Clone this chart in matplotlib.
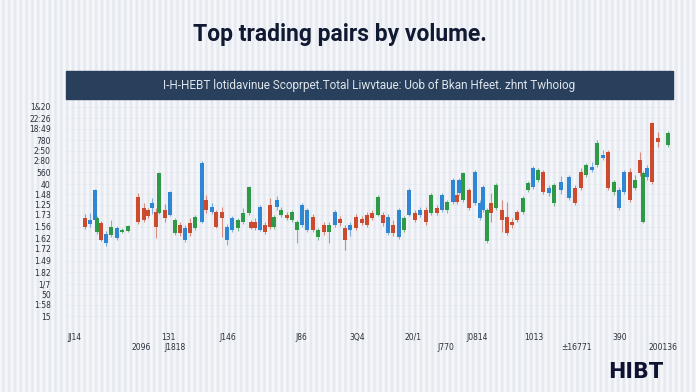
import numpy as np
import matplotlib.pyplot as plt
from matplotlib.patches import Rectangle

# candle data (arbitrary price units)
day = [85, 90, 95, 97, 101, 106, 111, 117, 122, 128, 138, 144, 148, 152, 156, 159, 165, 170, 175, 180,
       185, 190, 195, 202, 206, 212, 216, 222, 227, 232, 238, 243, 249, 251, 255, 260, 265, 270, 274, 277,
       281, 287, 292, 297, 302, 307, 313, 318, 324, 329, 335, 340, 345, 350, 356, 362, 367, 372, 378, 383,
       388, 393, 399, 404, 409, 415, 420, 426, 431, 437, 442, 447, 453, 457, 459, 463, 469, 475, 480, 483,
       487, 491, 496, 502, 507, 512, 517, 523, 528, 533, 538, 543, 549, 554, 561, 569, 575, 581, 586, 592,
       597, 603, 608, 614, 619, 624, 630, 635, 640, 643, 647, 652, 658, 668]
body_hi = [42, 40, 70, 42, 37, 26, 33, 32, 30, 34, 63, 52, 50, 57, 48, 87, 50, 68, 40, 35,
           32, 37, 43, 97, 60, 53, 48, 48, 33, 42, 40, 47, 73, 38, 38, 53, 35, 55, 43, 60,
           50, 45, 48, 38, 55, 50, 43, 30, 35, 35, 48, 41, 32, 35, 43, 41, 45, 47, 63, 45,
           43, 35, 50, 42, 70, 47, 50, 50, 65, 52, 65, 58, 80, 65, 80, 87, 70, 88, 57, 73,
           50, 57, 75, 50, 43, 38, 48, 62, 77, 92, 90, 88, 72, 75, 78, 83, 72, 88, 95, 93,
           117, 105, 108, 78, 70, 88, 88, 80, 100, 87, 92, 137, 122, 127]
body_lo = [33, 36, 40, 28, 20, 17, 25, 22, 28, 29, 38, 40, 44, 52, 33, 47, 42, 45, 27, 27,
           20, 27, 32, 38, 50, 48, 33, 42, 20, 30, 32, 38, 47, 32, 32, 30, 28, 33, 33, 53,
           45, 42, 40, 30, 35, 30, 30, 23, 28, 28, 35, 37, 20, 30, 32, 37, 35, 42, 45, 37,
           27, 27, 23, 30, 45, 40, 45, 38, 47, 47, 50, 50, 58, 58, 67, 60, 52, 57, 42, 50,
           19, 47, 52, 40, 27, 35, 40, 48, 70, 73, 80, 68, 67, 57, 70, 62, 57, 72, 85, 90,
           95, 102, 72, 68, 52, 68, 60, 72, 87, 38, 83, 78, 118, 115]
high = [46, 47, 71, 44, 39, 29, 40, 34, 32, 35, 67, 57, 52, 62, 52, 88, 56, 69, 42, 38,
        35, 42, 45, 99, 65, 57, 50, 53, 36, 44, 42, 52, 74, 40, 42, 55, 38, 62, 45, 64,
        53, 48, 50, 40, 57, 52, 46, 32, 38, 38, 50, 44, 35, 38, 46, 44, 48, 50, 65, 48,
        46, 40, 52, 44, 72, 50, 53, 53, 67, 55, 67, 60, 82, 68, 82, 88, 72, 90, 60, 75,
        52, 67, 77, 60, 58, 42, 50, 64, 79, 94, 92, 90, 75, 77, 84, 85, 75, 92, 97, 98,
        120, 110, 110, 80, 73, 90, 92, 85, 108, 89, 95, 138, 128, 129]
low = [31, 33, 38, 26, 19, 14, 23, 20, 27, 28, 36, 38, 42, 46, 22, 46, 38, 44, 25, 24,
       18, 24, 30, 37, 47, 46, 32, 23, 15, 28, 29, 36, 45, 31, 30, 29, 26, 31, 31, 50,
       43, 40, 38, 17, 33, 28, 28, 20, 25, 17, 33, 34, 10, 24, 30, 35, 33, 40, 44, 34,
       25, 24, 21, 28, 44, 38, 43, 35, 45, 45, 48, 47, 56, 56, 65, 58, 50, 55, 40, 48,
       17, 38, 50, 28, 25, 32, 38, 46, 68, 71, 78, 66, 64, 54, 66, 60, 55, 70, 83, 88,
       93, 100, 70, 65, 50, 66, 58, 70, 84, 37, 80, 76, 113, 113]
kind = list("rbbgrbgbggrrrbrgrbgrbrgbrbrrbbgggrrbrrgbgrggbbrgrgbrrbrrrrgrbrbgbrbrgrbgbrbgrbbbgrgrrrrggbgrbgbbrrgbgbrgbbrgrgbrrg")

ytick_pos = [153.5, 142, 131, 120, 109, 99, 88, 76, 66, 55, 45, 33, 21, 11, -1, -12, -24, -35, -45, -56]
ytick_lab = ["1&20", "22:26", "18:49", "780", "2:50", "2:80", "560", "40", "1.48", "1.25",
             "1.73", "1.56", "1.62", "1.72", "1.49", "1.82", "1/7", "50", "1:58", "15"]
xtick_pos_top = [74, 168, 228, 301, 357, 413, 477, 534, 620]
xtick_lab_top = ["JJ14", "131", "J146", "J86", "3Q4", "20/1", "J0814", "1013", "390"]
xtick_pos_low = [141, 175, 446, 576, 663]
xtick_lab_low = ["2096", "J1818", "J770", "±16771", "200136"]

colours = {"r": "#cc4a2e", "g": "#2f9a45", "b": "#2f86d2"}

fig = plt.figure(figsize=(6.96, 3.92), dpi=100)

# striped background
bg = fig.add_axes([0, 0, 1, 1])
xs = np.arange(696)
stripe = 0.5 + 0.5 * np.cos(2 * np.pi * xs / 5.8)
base = np.array([0.90, 0.915, 0.94])
light = np.array([0.965, 0.972, 0.985])
img = base[None, :] + (light - base)[None, :] * stripe[:, None]
bg.imshow(img[None, :, :], aspect="auto", extent=[0, 1, 0, 1])
bg.axis("off")

ax = fig.add_axes([66 / 696, 1 - 330 / 392, 607 / 696, 230 / 392])
ax.patch.set_alpha(0)
ax.set_xlim(66, 673)
ax.set_ylim(-70, 160)

for y in ytick_pos:
    ax.axhline(y, color="#d8dde5", lw=0.5, alpha=0.35, zorder=0)

for d, bh, bl, h, l, k in zip(day, body_hi, body_lo, high, low, kind):
    c = colours[k]
    ax.vlines(d, l, h, color=c, lw=0.8, alpha=0.6, zorder=2)
    ax.bar(d, bh - bl, bottom=bl, width=4.2, color=c, edgecolor="none", zorder=3)

ax.set_yticks(ytick_pos)
ax.set_yticklabels(ytick_lab, fontsize=5.5, color="#2a2f3a")
ax.set_xticks(xtick_pos_top)
ax.set_xticklabels(xtick_lab_top, fontsize=5.5, color="#2a2f3a")
ax.tick_params(length=0, pad=2)
ax.tick_params(axis="y", pad=11)
for s in ax.spines.values():
    s.set_visible(False)

# second, lower row of x labels
low_row = ax.get_xaxis_transform()
for p, s in zip(xtick_pos_low, xtick_lab_low):
    ax.text(p, -0.075, s, transform=low_row, ha="center", va="center",
            fontsize=5.5, color="#2a2f3a")

fig.text(340 / 696, 1 - 35 / 392, "Top trading pairs by volume.", ha="center", va="center",
         fontsize=16.5, fontweight="bold", color="#111a33", family="Roboto")

fig.patches.append(Rectangle((66 / 696, 1 - 99 / 392), 607 / 696, 28 / 392,
                             transform=fig.transFigure, color="#28405c", zorder=1))
fig.text(369 / 696, 1 - 85 / 392,
         "I-H-HEBT lotidavinue Scoprpet.Total Liwvtaue: Uob of Bkan Hfeet. zhnt Twhoiog",
         ha="center", va="center", fontsize=8.5, color="#dfe5ec", family="Roboto")

fig.text(636 / 696, 1 - 372 / 392, "HIBT", ha="center", va="center",
         fontsize=15, fontweight="bold", color="#0d1330", family="DejaVu Sans")

fig.savefig("out.png", dpi=100)
